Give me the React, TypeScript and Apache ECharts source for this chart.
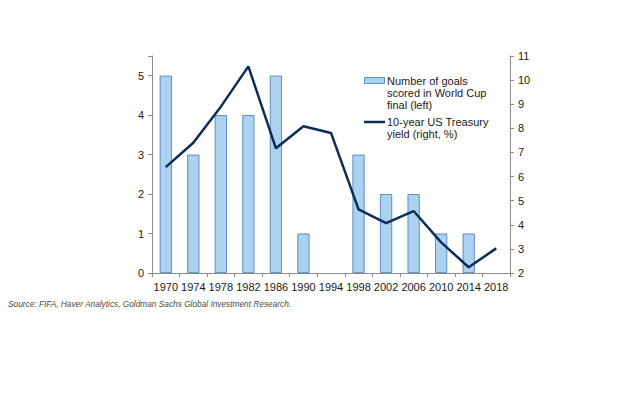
import React, { useEffect, useRef } from "react";
import * as echarts from "echarts";

const years = ["1970", "1974", "1978", "1982", "1986", "1990", "1994", "1998", "2002", "2006", "2010", "2014", "2018"];
const goals: (number | null)[] = [5, 3, 4, 4, 5, 1, 0, 3, 2, 2, 1, 1, null];
const yields = [6.39, 7.4, 8.9, 10.57, 7.17, 8.09, 7.81, 4.64, 4.07, 4.57, 3.27, 2.24, 3.02];
const goalsLegend = ["Number of goals", "scored in World Cup", "final (left)"];
const yieldLegend = ["10-year US Treasury", "yield (right, %)"];
const sourceText = "Source: FIFA, Haver Analytics, Goldman Sachs Global Investment Research.";

const FONT = "Liberation Sans, Arial, sans-serif";
const AXIS_GRAY = "#8c8c8c";
const BAR_FILL = "#acd2f1";
const BAR_EDGE = "#3f78b0";
const LINE_COLOR = "#0c2d55";

export default function App() {
  const ref = useRef<HTMLDivElement>(null);
  useEffect(() => {
    if (!ref.current) return;
    const chart = echarts.init(ref.current, null, { renderer: "svg" });
    const labelStyle = { color: "#1a1a1a", fontSize: 11, fontFamily: FONT };
    chart.setOption({
      animation: false,
      backgroundColor: "#ffffff",
      grid: { left: 152, right: 130, top: 56, bottom: 121, containLabel: false },
      xAxis: {
        type: "category",
        data: years,
        axisLine: { lineStyle: { color: AXIS_GRAY, width: 1 } },
        axisTick: { show: true, length: 4, lineStyle: { color: AXIS_GRAY } },
        axisLabel: { ...labelStyle, margin: 8, interval: 0 },
      },
      yAxis: [
        {
          type: "value",
          min: 0,
          max: 5.5,
          interval: 1,
          axisLine: { show: true, lineStyle: { color: AXIS_GRAY } },
          axisTick: { show: true, length: 4, lineStyle: { color: AXIS_GRAY } },
          axisLabel: {
            ...labelStyle,
            margin: 8,
            formatter: (v: number) => (Number.isInteger(v) ? String(v) : ""),
          },
          splitLine: { show: false },
        },
        {
          type: "value",
          min: 2,
          max: 11,
          interval: 1,
          position: "right",
          axisLine: { show: true, lineStyle: { color: AXIS_GRAY } },
          axisTick: { show: true, length: 4, lineStyle: { color: AXIS_GRAY } },
          axisLabel: { ...labelStyle, margin: 8 },
          splitLine: { show: false },
        },
      ],
      series: [
        {
          name: "Number of goals scored in World Cup final (left)",
          type: "bar",
          data: goals.map((v) =>
            v === 0 ? { value: v, itemStyle: { borderWidth: 0, opacity: 0 } } : v
          ),
          yAxisIndex: 0,
          barWidth: "44%",
          itemStyle: { color: BAR_FILL, borderColor: BAR_EDGE, borderWidth: 0.8 },
        },
        {
          name: "10-year US Treasury yield (right, %)",
          type: "line",
          data: yields,
          yAxisIndex: 1,
          symbol: "none",
          lineStyle: { color: LINE_COLOR, width: 2.5 },
        },
      ],
      graphic: [
        {
          type: "rect",
          shape: { x: 364.5, y: 77.5, width: 20, height: 6 },
          style: { fill: BAR_FILL, stroke: BAR_EDGE, lineWidth: 0.8 },
        },
        ...goalsLegend.map((t, i) => ({
          type: "text",
          x: 387,
          y: 81 + i * 12,
          style: { text: t, fill: "#1a1a1a", fontSize: 11, fontFamily: FONT, verticalAlign: "middle" },
        })),
        {
          type: "line",
          shape: { x1: 364, y1: 122, x2: 385, y2: 122 },
          style: { stroke: LINE_COLOR, lineWidth: 2.5 },
        },
        ...yieldLegend.map((t, i) => ({
          type: "text",
          x: 387,
          y: 122 + i * 12,
          style: { text: t, fill: "#1a1a1a", fontSize: 11, fontFamily: FONT, verticalAlign: "middle" },
        })),
        {
          type: "text",
          x: 8,
          y: 304,
          style: {
            text: sourceText,
            fill: "#4a4a4a",
            fontSize: 8.3,
            fontStyle: "italic",
            fontFamily: FONT,
            verticalAlign: "middle",
          },
        },
      ],
    });
    return () => chart.dispose();
  }, []);
  return (
    <div
      ref={ref}
      style={{ position: "fixed", left: 0, top: 0, width: 640, height: 394, background: "#fff" }}
    />
  );
}
